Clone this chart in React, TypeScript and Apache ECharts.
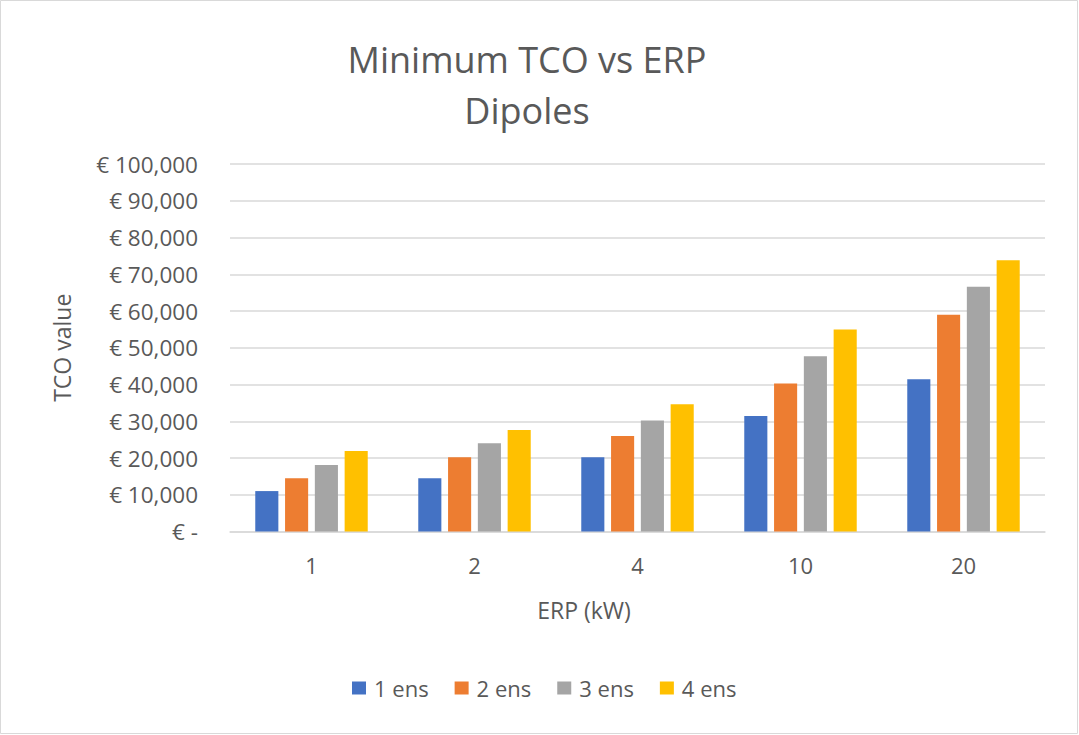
import React, { useEffect, useRef } from "react";
import * as echarts from "echarts";

const categories = ["1", "2", "4", "10", "20"];
const seriesNames = ["1 ens", "2 ens", "3 ens", "4 ens"];
const ens1 = [11000, 14500, 20200, 31400, 41400];
const ens2 = [14500, 20200, 26000, 40300, 59000];
const ens3 = [18100, 24000, 30200, 47700, 66600];
const ens4 = [21900, 27600, 34600, 55000, 73800];
const colors = ["#4472C4", "#ED7D31", "#A5A5A5", "#FFC000"];

const FONT = "'Open Sans', 'Noto Sans', sans-serif";
const TXT = "#595959";

export default function App() {
  const ref = useRef<HTMLDivElement>(null);
  useEffect(() => {
    document.body.style.margin = "0";
    const chart = echarts.init(ref.current!, null, { renderer: "svg" });
    const data = [ens1, ens2, ens3, ens4];
    chart.setOption({
      animation: false,
      backgroundColor: "#ffffff",
      textStyle: { fontFamily: FONT, color: TXT },
      title: {
        text: "Minimum TCO vs ERP\nDipoles",
        left: 527,
        top: 34,
        padding: 0,
        textAlign: "center",
        textStyle: { fontFamily: FONT, fontSize: 36, fontWeight: "normal", color: TXT, lineHeight: 51 },
      },
      graphic: [
        {
          type: "rect",
          shape: { x: 0.5, y: 0.5, width: 1077, height: 733 },
          style: { fill: "none", stroke: "#D9D9D9", lineWidth: 1 },
          silent: true,
        },
        {
          type: "text",
          x: 584,
          y: 610,
          style: {
            text: "ERP (kW)",
            fontFamily: FONT,
            fontSize: 23,
            fill: TXT,
            align: "center",
            verticalAlign: "middle",
          },
          silent: true,
        },
      ],
      legend: {
        data: seriesNames,
        top: 677,
        left: 352,
        itemWidth: 14,
        itemHeight: 13,
        itemGap: 26,
        icon: "rect",
        padding: 0,
        textStyle: { fontFamily: FONT, fontSize: 22, color: TXT, padding: [0, 0, 0, 3] },
      },
      grid: { left: 230, right: 34, top: 164, bottom: 203.5, containLabel: false },
      xAxis: {
        type: "category",
        data: categories,
        axisLine: { lineStyle: { color: "#D9D9D9", width: 1.5 } },
        axisTick: { show: false },
        axisLabel: { fontFamily: FONT, fontSize: 22, color: TXT, margin: 22 },
      },
      yAxis: {
        type: "value",
        min: 0,
        max: 100000,
        interval: 10000,
        name: "TCO value",
        nameLocation: "middle",
        nameGap: 157,
        nameTextStyle: { fontFamily: FONT, fontSize: 23, color: TXT },
        axisLine: { show: false },
        axisTick: { show: false },
        splitLine: { lineStyle: { color: "#D9D9D9", width: 1.5 } },
        axisLabel: {
          fontFamily: FONT,
          fontSize: 22.5,
          color: TXT,
          margin: 32,
          formatter: (v: number) => (v === 0 ? "€ -" : "€ " + v.toLocaleString("en-US")),
        },
      },
      series: seriesNames.map((n, i) => ({
        name: n,
        type: "bar",
        data: data[i],
        barGap: "29%",
        barCategoryGap: "31%",
        itemStyle: { color: colors[i] },
      })),
    });
    return () => chart.dispose();
  }, []);
  return <div ref={ref} style={{ width: 1079, height: 735 }} />;
}
